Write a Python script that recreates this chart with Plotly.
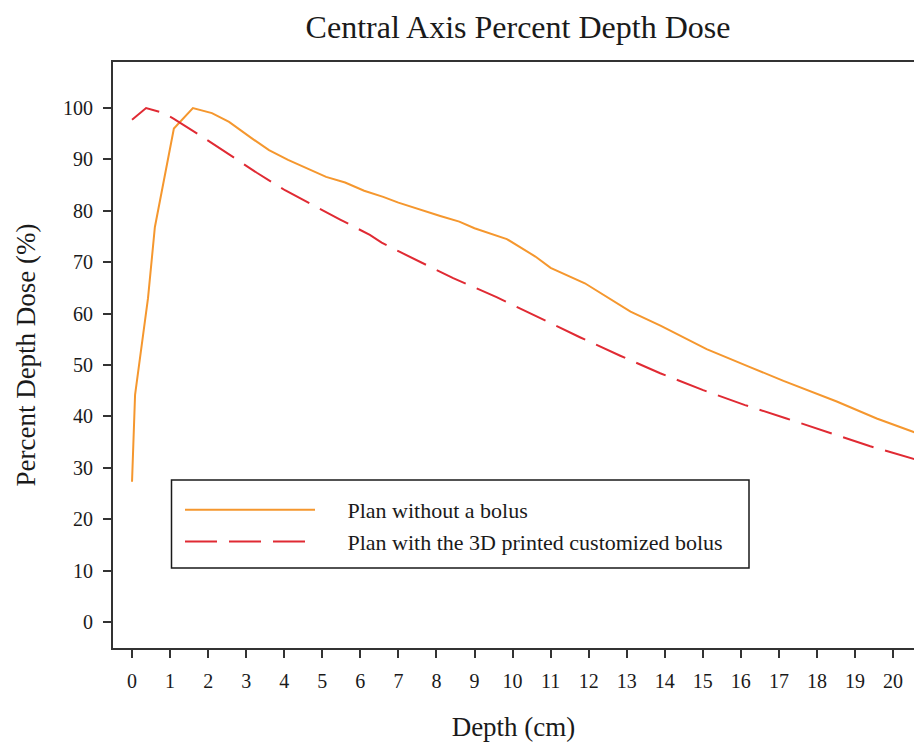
import plotly.graph_objects as go

# Plan without a bolus (orange solid)
depth_nobolus = [0, 0.08, 0.42, 0.6, 1.1, 1.6, 2.1, 2.55, 3.15, 3.6, 4.1, 4.6, 5.1, 5.6,
                 6.1, 6.6, 7.0, 8.1, 8.6, 9.0, 9.85, 10.6, 11.0, 11.9, 13.1, 13.9,
                 15.1, 16.24, 17.12, 18.52, 19.57, 20.6]
pdd_nobolus = [27.3, 44.2, 63.0, 76.8, 96.0, 100.0, 99.0, 97.3, 94.1, 91.8, 89.9, 88.3, 86.6, 85.5,
               83.9, 82.7, 81.6, 79.0, 77.9, 76.6, 74.5, 71.1, 68.9, 65.9, 60.4, 57.6,
               53.1, 49.6, 46.9, 42.9, 39.6, 36.8]

# Plan with the 3D printed customized bolus (red dashed)
depth_bolus = [0, 0.37, 0.8, 1.1, 1.87, 2.18, 2.97, 3.28, 4.02, 4.42, 5.16, 5.47, 6.25, 6.56,
               7.04, 8.44, 9.58, 10.64, 11.77, 12.83, 13.88, 15.01, 16.11, 17.2, 18.3, 19.4, 20.6]
pdd_bolus = [97.7, 100.0, 99.1, 97.9, 94.3, 92.8, 88.9, 87.4, 84.0, 82.4, 79.5, 78.3, 75.3, 73.8,
             72.0, 66.9, 63.2, 59.4, 55.4, 51.8, 48.4, 45.1, 42.2, 39.6, 36.9, 34.2, 31.6]

x_ticks = list(range(0, 21))
y_ticks = list(range(0, 101, 10))

PAD = "\u00a0" * 5
name1 = PAD + "Plan without a bolus"
name2 = PAD + "Plan with the 3D printed customized bolus"

FONT = "Liberation Serif, Times New Roman, serif"
INK = "#1a1a1a"

fig = go.Figure()
fig.add_trace(go.Scatter(x=depth_nobolus, y=pdd_nobolus, mode="lines", name=name1,
                         line=dict(color="#F5972E", width=2)))
fig.add_trace(go.Scatter(x=depth_bolus, y=pdd_bolus, mode="lines", name=name2,
                         line=dict(color="#E02A33", width=2, dash="32px,12px")))

W, H = 914, 747
L, R, T, B = 113, 0, 62, 99
pw, ph = W - L - R, H - T - B

def px_x(p):
    return (p - L) / pw

def px_y(p):
    return (H - B - p) / ph

fig.update_layout(
    width=W, height=H,
    margin=dict(l=L, r=R, t=T, b=B),
    paper_bgcolor="white", plot_bgcolor="white",
    font=dict(family=FONT, color=INK),
    title=dict(text="Central Axis Percent Depth Dose", font=dict(size=32, family=FONT, color=INK),
               x=518 / W, xanchor="center", xref="container",
               y=1 - 27 / H, yanchor="middle", yref="container"),
    showlegend=True,
    legend=dict(x=px_x(180), y=px_y(489), xanchor="left", yanchor="top",
                bgcolor="rgba(0,0,0,0)", borderwidth=0,
                font=dict(size=22, family=FONT, color=INK),
                itemwidth=130, tracegroupgap=0),
    shapes=[dict(type="rect", xref="paper", yref="paper",
                 x0=px_x(171.5), x1=px_x(749), y0=px_y(568), y1=px_y(480),
                 line=dict(color=INK, width=1.5), fillcolor="rgba(0,0,0,0)")],
)

fig.update_xaxes(range=[-0.5, 20.55], tickvals=x_ticks, ticktext=[str(v) for v in x_ticks],
                 showgrid=False, zeroline=False, showline=True, linecolor="#333", linewidth=2,
                 mirror=True, ticks="outside", ticklen=8, tickwidth=1.5, tickcolor="#333",
                 tickfont=dict(size=20, family=FONT, color=INK), ticklabelstandoff=6,
                 title=dict(text="Depth (cm)", font=dict(size=27, family=FONT, color=INK), standoff=26))
fig.update_yaxes(range=[-5.06, 108.95], tickvals=y_ticks, ticktext=[str(v) for v in y_ticks],
                 showgrid=False, zeroline=False, showline=True, linecolor="#333", linewidth=2,
                 mirror=False, ticks="outside", ticklen=8, tickwidth=1.5, tickcolor="#333",
                 tickfont=dict(size=20, family=FONT, color=INK), ticklabelstandoff=6,
                 title=dict(text="Percent Depth Dose (%)", font=dict(size=27, family=FONT, color=INK), standoff=20))

fig.write_html("out.html")
